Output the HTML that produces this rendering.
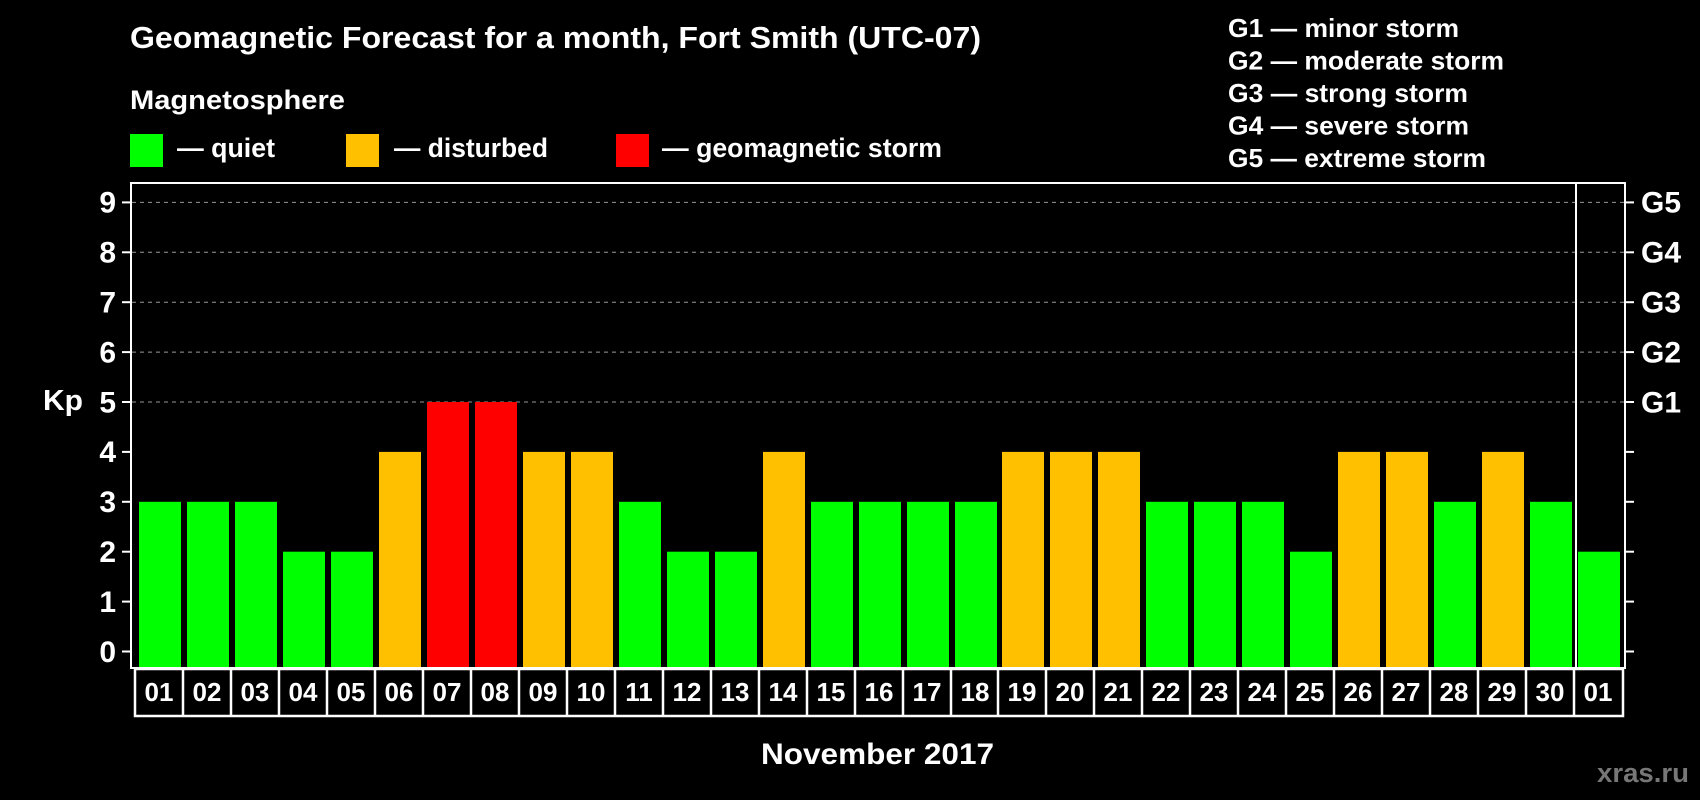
<!DOCTYPE html>
<html><head><meta charset="utf-8"><style>
html,body{margin:0;padding:0;background:#000;}
svg{display:block;font-family:"Liberation Sans",Arial,sans-serif;font-weight:bold;}
</style></head><body>
<svg width="1700" height="800" viewBox="0 0 1700 800" xmlns="http://www.w3.org/2000/svg">
<rect width="1700" height="800" fill="#000"/>
<g fill="#fff">
<text x="130" y="48" font-size="31" textLength="851" lengthAdjust="spacingAndGlyphs">Geomagnetic Forecast for a month, Fort Smith (UTC-07)</text>
<text x="130" y="109" font-size="27" textLength="215" lengthAdjust="spacingAndGlyphs">Magnetosphere</text>
<text x="177" y="157" font-size="27" textLength="98" lengthAdjust="spacingAndGlyphs">— quiet</text>
<text x="394" y="157" font-size="27" textLength="154" lengthAdjust="spacingAndGlyphs">— disturbed</text>
<text x="662" y="157" font-size="27" textLength="280" lengthAdjust="spacingAndGlyphs">— geomagnetic storm</text>
<text x="1228" y="37" font-size="26" textLength="231" lengthAdjust="spacingAndGlyphs">G1 — minor storm</text>
<text x="1228" y="69.5" font-size="26" textLength="276" lengthAdjust="spacingAndGlyphs">G2 — moderate storm</text>
<text x="1228" y="102" font-size="26" textLength="240" lengthAdjust="spacingAndGlyphs">G3 — strong storm</text>
<text x="1228" y="134.5" font-size="26" textLength="241" lengthAdjust="spacingAndGlyphs">G4 — severe storm</text>
<text x="1228" y="167" font-size="26" textLength="258" lengthAdjust="spacingAndGlyphs">G5 — extreme storm</text>
<text x="43" y="410" font-size="29" textLength="40" lengthAdjust="spacingAndGlyphs">Kp</text>
<text x="761" y="764" font-size="30" textLength="233" lengthAdjust="spacingAndGlyphs">November 2017</text>
</g>
<text x="1597" y="782" font-size="27" fill="#777" textLength="92" lengthAdjust="spacingAndGlyphs">xras.ru</text>
<rect x="130" y="134" width="33" height="33" fill="#00ff00"/>
<rect x="346" y="134" width="33" height="33" fill="#ffc000"/>
<rect x="616" y="134" width="33" height="33" fill="#ff0000"/>

<g stroke="#999" stroke-width="1" stroke-dasharray="4,4">
<line x1="132" x2="1624" y1="402" y2="402"/>
<line x1="132" x2="1624" y1="352.1" y2="352.1"/>
<line x1="132" x2="1624" y1="302.2" y2="302.2"/>
<line x1="132" x2="1624" y1="252.3" y2="252.3"/>
<line x1="132" x2="1624" y1="202.4" y2="202.4"/>
</g>

<g>
<rect x="139" y="501.8" width="42" height="166.2" fill="#00ff00"/>
<rect x="187" y="501.8" width="42" height="166.2" fill="#00ff00"/>
<rect x="235" y="501.8" width="42" height="166.2" fill="#00ff00"/>
<rect x="283" y="551.7" width="42" height="116.3" fill="#00ff00"/>
<rect x="331" y="551.7" width="42" height="116.3" fill="#00ff00"/>
<rect x="379" y="451.9" width="42" height="216.1" fill="#ffc000"/>
<rect x="427" y="402" width="42" height="266" fill="#ff0000"/>
<rect x="475" y="402" width="42" height="266" fill="#ff0000"/>
<rect x="523" y="451.9" width="42" height="216.1" fill="#ffc000"/>
<rect x="571" y="451.9" width="42" height="216.1" fill="#ffc000"/>
<rect x="619" y="501.8" width="42" height="166.2" fill="#00ff00"/>
<rect x="667" y="551.7" width="42" height="116.3" fill="#00ff00"/>
<rect x="715" y="551.7" width="42" height="116.3" fill="#00ff00"/>
<rect x="763" y="451.9" width="42" height="216.1" fill="#ffc000"/>
<rect x="811" y="501.8" width="42" height="166.2" fill="#00ff00"/>
<rect x="859" y="501.8" width="42" height="166.2" fill="#00ff00"/>
<rect x="907" y="501.8" width="42" height="166.2" fill="#00ff00"/>
<rect x="955" y="501.8" width="42" height="166.2" fill="#00ff00"/>
<rect x="1002" y="451.9" width="42" height="216.1" fill="#ffc000"/>
<rect x="1050" y="451.9" width="42" height="216.1" fill="#ffc000"/>
<rect x="1098" y="451.9" width="42" height="216.1" fill="#ffc000"/>
<rect x="1146" y="501.8" width="42" height="166.2" fill="#00ff00"/>
<rect x="1194" y="501.8" width="42" height="166.2" fill="#00ff00"/>
<rect x="1242" y="501.8" width="42" height="166.2" fill="#00ff00"/>
<rect x="1290" y="551.7" width="42" height="116.3" fill="#00ff00"/>
<rect x="1338" y="451.9" width="42" height="216.1" fill="#ffc000"/>
<rect x="1386" y="451.9" width="42" height="216.1" fill="#ffc000"/>
<rect x="1434" y="501.8" width="42" height="166.2" fill="#00ff00"/>
<rect x="1482" y="451.9" width="42" height="216.1" fill="#ffc000"/>
<rect x="1530" y="501.8" width="42" height="166.2" fill="#00ff00"/>
<rect x="1578" y="551.7" width="42" height="116.3" fill="#00ff00"/>
</g>

<rect x="131" y="183" width="1494" height="485" fill="none" stroke="#fff" stroke-width="2"/>
<line x1="1576" x2="1576" y1="183" y2="668" stroke="#fff" stroke-width="2"/>

<g stroke="#fff" stroke-width="2">
<line x1="122" x2="131" y1="651.5" y2="651.5"/><line x1="1625" x2="1634" y1="651.5" y2="651.5"/>
<line x1="122" x2="131" y1="601.6" y2="601.6"/><line x1="1625" x2="1634" y1="601.6" y2="601.6"/>
<line x1="122" x2="131" y1="551.7" y2="551.7"/><line x1="1625" x2="1634" y1="551.7" y2="551.7"/>
<line x1="122" x2="131" y1="501.8" y2="501.8"/><line x1="1625" x2="1634" y1="501.8" y2="501.8"/>
<line x1="122" x2="131" y1="451.9" y2="451.9"/><line x1="1625" x2="1634" y1="451.9" y2="451.9"/>
<line x1="122" x2="131" y1="402" y2="402"/><line x1="1625" x2="1634" y1="402" y2="402"/>
<line x1="122" x2="131" y1="352.1" y2="352.1"/><line x1="1625" x2="1634" y1="352.1" y2="352.1"/>
<line x1="122" x2="131" y1="302.2" y2="302.2"/><line x1="1625" x2="1634" y1="302.2" y2="302.2"/>
<line x1="122" x2="131" y1="252.3" y2="252.3"/><line x1="1625" x2="1634" y1="252.3" y2="252.3"/>
<line x1="122" x2="131" y1="202.4" y2="202.4"/><line x1="1625" x2="1634" y1="202.4" y2="202.4"/>
</g>

<g fill="#fff" font-size="30" text-anchor="end">
<text x="116" y="662">0</text>
<text x="116" y="612">1</text>
<text x="116" y="562">2</text>
<text x="116" y="512">3</text>
<text x="116" y="462">4</text>
<text x="116" y="412.5">5</text>
<text x="116" y="362.5">6</text>
<text x="116" y="312.5">7</text>
<text x="116" y="262.5">8</text>
<text x="116" y="212.5">9</text>
</g>
<g fill="#fff" font-size="30">
<text x="1641" y="412.5">G1</text>
<text x="1641" y="362.5">G2</text>
<text x="1641" y="312.5">G3</text>
<text x="1641" y="262.5">G4</text>
<text x="1641" y="212.5">G5</text>
</g>

<g fill="none" stroke="#fff" stroke-width="2.5">
<rect x="135" y="669" width="1488" height="47"/>
<path d="M183 669V716M231 669V716M279 669V716M327 669V716M375 669V716M423 669V716M471 669V716M519 669V716M567 669V716M615 669V716M663 669V716M711 669V716M759 669V716M807 669V716M855 669V716M903 669V716M951 669V716M998 669V716M1046 669V716M1094 669V716M1142 669V716M1190 669V716M1238 669V716M1286 669V716M1334 669V716M1382 669V716M1430 669V716M1478 669V716M1526 669V716M1574 669V716"/>
</g>
<g fill="#fff" font-size="26" text-anchor="middle">
<text x="159" y="701">01</text><text x="207" y="701">02</text><text x="255" y="701">03</text><text x="303" y="701">04</text>
<text x="351" y="701">05</text><text x="399" y="701">06</text><text x="447" y="701">07</text><text x="495" y="701">08</text>
<text x="543" y="701">09</text><text x="591" y="701">10</text><text x="639" y="701">11</text><text x="687" y="701">12</text>
<text x="735" y="701">13</text><text x="783" y="701">14</text><text x="831" y="701">15</text><text x="879" y="701">16</text>
<text x="927" y="701">17</text><text x="975" y="701">18</text><text x="1022" y="701">19</text><text x="1070" y="701">20</text>
<text x="1118" y="701">21</text><text x="1166" y="701">22</text><text x="1214" y="701">23</text><text x="1262" y="701">24</text>
<text x="1310" y="701">25</text><text x="1358" y="701">26</text><text x="1406" y="701">27</text><text x="1454" y="701">28</text>
<text x="1502" y="701">29</text><text x="1550" y="701">30</text><text x="1598" y="701">01</text>
</g>
</svg>
</body></html>
